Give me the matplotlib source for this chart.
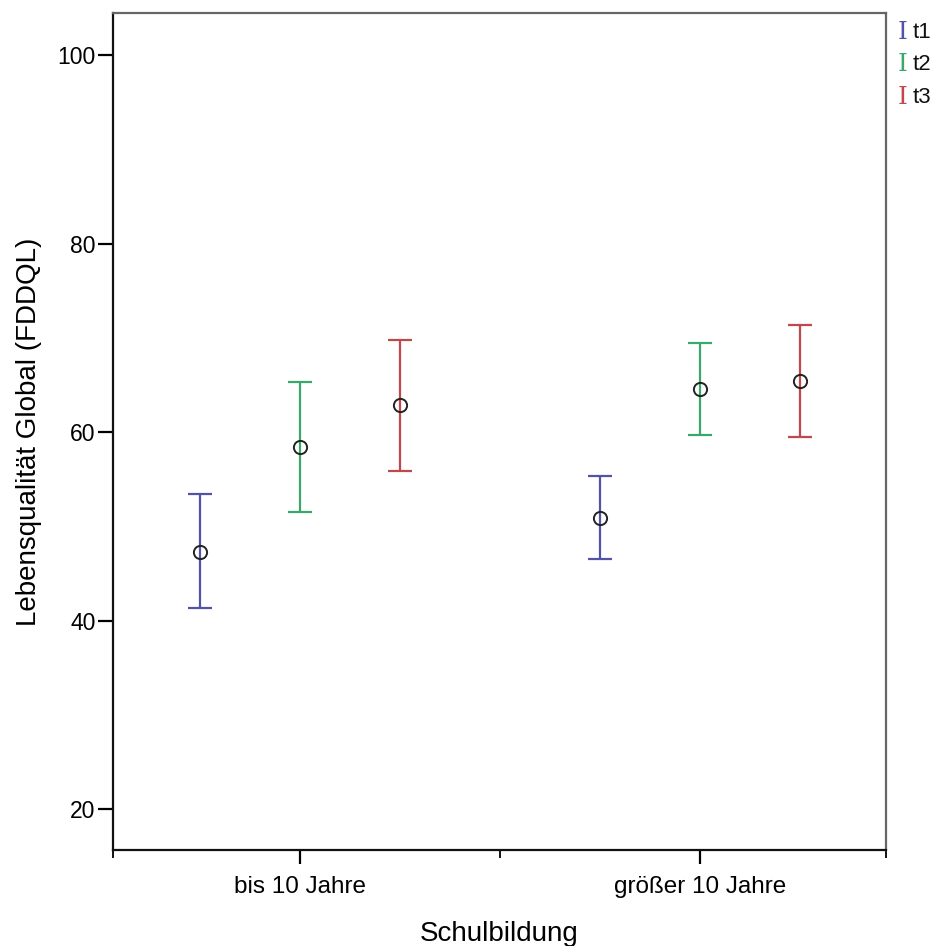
import numpy as np
import matplotlib
matplotlib.use('Agg')
import matplotlib.pyplot as plt

plt.rcParams['font.family'] = ['Liberation Sans', 'DejaVu Sans']

# Schulbildung groups and time points
groups = ['bis 10 Jahre', 'größer 10 Jahre']
times = ['t1', 't2', 't3']
colors = ['#5252a6', '#3aa86a', '#c0474b']

# means and 95% CI bounds
means = {'t1': [47.3, 50.9], 't2': [58.4, 64.6], 't3': [62.9, 65.4]}
lower = {'t1': [41.3, 46.5], 't2': [51.5, 59.7], 't3': [55.9, 59.5]}
upper = {'t1': [53.4, 55.3], 't2': [65.3, 69.5], 't3': [69.8, 71.4]}

fig = plt.figure(figsize=(9.46, 9.46), dpi=100)
ax = fig.add_axes([0.1195, 0.1015, 0.817, 0.885])

offsets = [-0.25, 0.0, 0.25]
xpos = np.arange(len(groups))
for t, off, c in zip(times, offsets, colors):
    m = np.array(means[t])
    err = [m - np.array(lower[t]), np.array(upper[t]) - m]
    ax.errorbar(xpos + off, m, yerr=err, fmt='none', ecolor=c,
                elinewidth=1.6, capsize=8.5, capthick=1.6)
    ax.plot(xpos + off, m, 'o', mfc='none', mec='#222222', mew=1.4, ms=9.5)

ax.set_xlim(-0.4675, 1.465)
ax.set_ylim(15.65, 104.5)
ax.set_yticks([20, 40, 60, 80, 100])
ax.set_xticks(xpos)
ax.set_xticklabels(groups)
ax.set_xticks([-0.4675, 0.5, 1.465], minor=True)
ax.tick_params(axis='x', which='major', length=10, width=1.6, pad=9, labelsize=17.5)
ax.tick_params(axis='x', which='minor', length=5.8, width=1.3)
ax.tick_params(axis='y', length=10.5, width=1.6, labelsize=16.5, pad=2)

ax.set_xlabel('Schulbildung', fontsize=20, labelpad=16)
ax.set_ylabel('Lebensqualität Global (FDDQL)', fontsize=20, labelpad=11)

for s in ['left', 'bottom']:
    ax.spines[s].set_color('#111111')
    ax.spines[s].set_linewidth(1.6)
for s in ['top', 'right']:
    ax.spines[s].set_color('#666666')
    ax.spines[s].set_linewidth(1.6)

# legend drawn as small coloured I-beams beside the labels
leg_y = [0.966, 0.932, 0.897]
for t, c, yy in zip(times, colors, leg_y):
    fig.text(0.9545, yy, 'I', color=c, fontsize=18, fontfamily='DejaVu Serif',
             ha='center', va='center')
    fig.text(0.9645, yy, t, color='#111111', fontsize=16, ha='left', va='center')

fig.savefig('out.png', dpi=100)
